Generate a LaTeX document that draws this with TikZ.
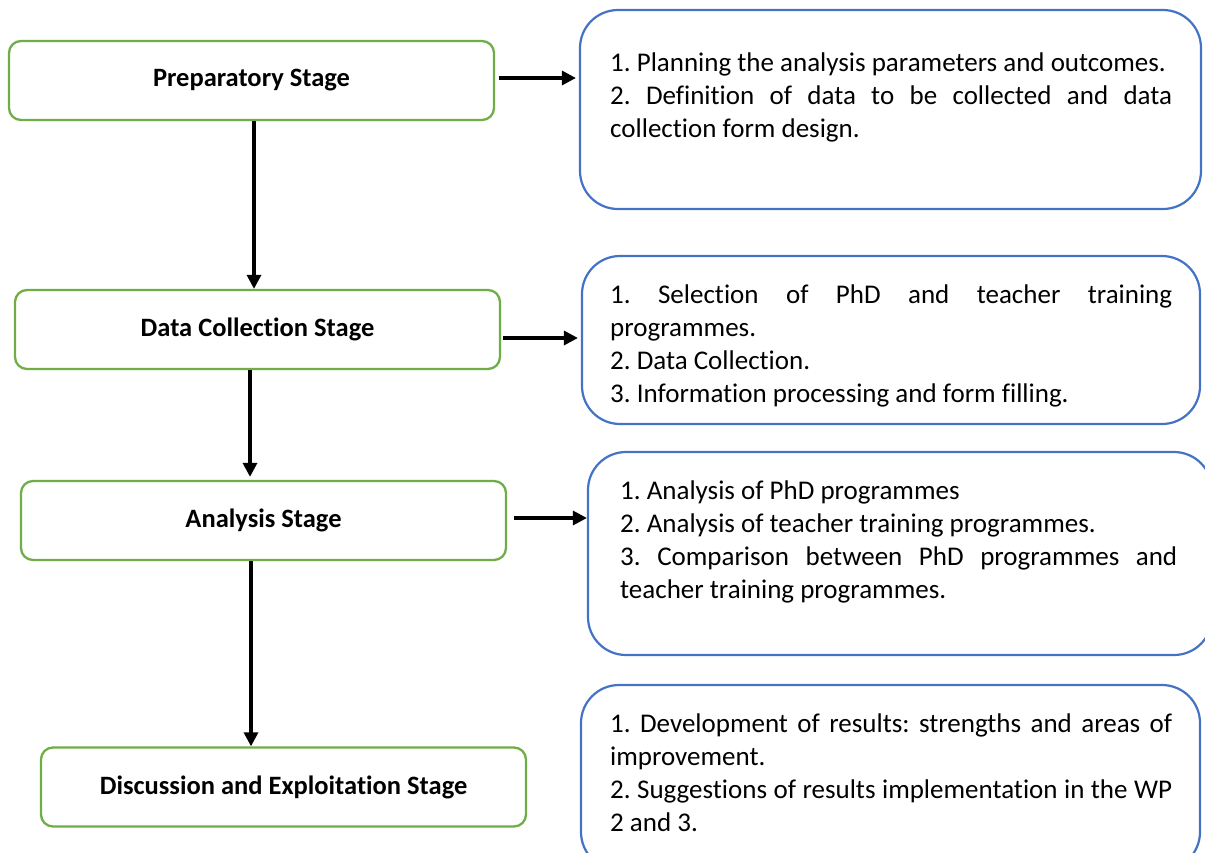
\documentclass[tikz,border=0pt]{standalone}
\usepackage{fontspec}
\setmainfont{Carlito}[Ligatures=CommonOff]
\usetikzlibrary{arrows.meta}
\definecolor{stagegreen}{RGB}{112,173,71}
\definecolor{panelblue}{RGB}{68,114,196}
\newcommand\panelsetup{\frenchspacing\hyphenpenalty=10000\relax\exhyphenpenalty=10000\relax\parindent=0pt\relax\parskip=0pt\relax}
\begin{document}
\begin{tikzpicture}[x=1pt,y=-1pt,
  stage/.style={draw=stagegreen, line width=2.3pt, rounded corners=12pt,
    minimum width=485pt, minimum height=79pt, inner sep=0pt,
    font=\bfseries\fontsize{26.5}{30}\selectfont},
  panel/.style={draw=panelblue, line width=2.2pt, rounded corners=38pt, inner sep=0pt},
  ptext/.style={anchor=north west, inner sep=0pt, text width=562pt, align=justify,
    font=\fontsize{27}{33}\selectfont, execute at begin node=\panelsetup},
  flow/.style={line width=3.2pt, -{Triangle[length=14pt,width=14pt]}}]
\useasboundingbox (0,0) rectangle (1205,852);
\clip (0,0) rectangle (1205,852);
% stages
\node[stage] (G1) at (251.5,80.5) {Preparatory Stage};
\node[stage] (G2) at (257.5,329.5) {Data Collection Stage};
\node[stage] (G3) at (263.5,520.5) {Analysis Stage};
\node[stage] (G4) at (283.5,787) {Discussion and Exploitation Stage};
% panels
\node[panel, minimum width=621pt, minimum height=199pt] (B1) at (890.5,109.5) {};
\node[panel, minimum width=618pt, minimum height=168pt] (B2) at (891,340) {};
\node[panel, minimum width=624pt, minimum height=203pt] (B3) at (900,553.5) {};
\node[panel, minimum width=619pt, minimum height=185pt] (B4) at (890.5,777.5) {};
% panel texts
\node[ptext] (T1) at (610,53) {1. Planning the analysis parameters and outcomes.\par
2. Definition of data to be collected and data\linebreak collection form design.};
\node[ptext] (T2) at (610,285) {1. Selection of PhD and teacher training\linebreak programmes.\par
2. Data Collection.\par
3. Information processing and form filling.};
\node[ptext, text width=557pt] (T3) at (620,481) {1. Analysis of PhD programmes\par
2. Analysis of teacher training programmes.\par
3. Comparison between PhD programmes and\linebreak teacher training programmes.};
\node[ptext] (T4) at (610,714) {1. Development of results: strengths and areas of\linebreak improvement.\par
2. Suggestions of results implementation in the WP\linebreak 2 and 3.};
% vertical connectors
\coordinate (v1) at (254,0);
\coordinate (v2) at (250,0);
\coordinate (v3) at (251,0);
\draw[flow] (G1.south -| v1) -- (G2.north -| v1);
\draw[flow] (G2.south -| v2) -- ([yshift=3pt]G3.north -| v2);
\draw[flow] (G3.south -| v3) -- (G4.north -| v3);
% horizontal connectors
\coordinate (h1) at (0,78);
\coordinate (h2) at (0,338);
\coordinate (h3) at (0,518);
\draw[flow, shorten <=4pt, shorten >=3pt] (G1.east |- h1) -- (B1.west |- h1);
\draw[flow, shorten <=2pt, shorten >=3pt] (G2.east |- h2) -- (B2.west |- h2);
\draw[flow, shorten <=7pt, shorten >=0pt] (G3.east |- h3) -- (B3.west |- h3);
\end{tikzpicture}
\end{document}
